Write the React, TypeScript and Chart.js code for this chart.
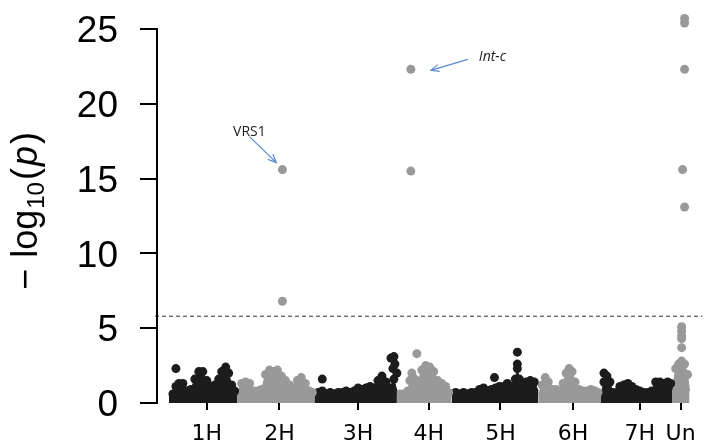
import React, { useEffect, useRef } from 'react';
import { Chart, registerables } from 'chart.js';
Chart.register(...registerables);

const BLACK = '#1c1c1c';
const GRAY = '#999999';

// chromosome labels and tick positions (cumulative position units)
const chromLabels = ['1H', '2H', '3H', '4H', '5H', '6H', '7H', 'Un'];
const chromTicks = [50, 123, 202, 273, 345, 418, 485, 526];
const yTicks = [0, 5, 10, 15, 20, 25];
const threshold = 5.8;

// dense SNP mass per chromosome: upper envelope [position, -log10(p)]
const chr1H = [[12, 0.4], [16, 0.6], [19, 1.1], [22, 1.3], [26, 1.3], [30, 0.8], [34, 0.9], [38, 1.6], [42, 2.1], [46, 2.1], [50, 1.5], [54, 1.1], [58, 1.2], [62, 1.6], [65, 2.1], [69, 2.4], [72, 2.0], [75, 1.2], [78, 0.8], [81, 0.7]];
const chr2H = [[81, 0.8], [85, 1.3], [89, 1.4], [93, 1.3], [97, 0.8], [101, 0.8], [105, 0.9], [109, 1.9], [113, 2.2], [117, 2.1], [121, 2.2], [125, 1.8], [129, 1.5], [133, 1.2], [137, 1.0], [141, 1.5], [145, 1.7], [149, 1.3], [153, 0.8], [156, 0.7], [158, 0.6]];
const chr3H = [[158, 0.6], [162, 0.7], [166, 0.8], [170, 0.6], [174, 0.7], [178, 0.6], [182, 0.7], [186, 0.7], [190, 0.8], [194, 0.7], [198, 0.8], [202, 1.0], [206, 0.9], [210, 1.0], [214, 1.1], [218, 1.0], [222, 1.5], [226, 1.8], [230, 1.4], [234, 1.0], [238, 1.6], [241, 0.8]];
const chr4H = [[241, 0.5], [244, 0.6], [248, 0.6], [252, 0.8], [254, 1.5], [256, 2.0], [259, 1.6], [262, 1.4], [266, 2.2], [270, 2.5], [274, 2.4], [278, 2.1], [282, 1.5], [286, 1.3], [290, 1.1], [293, 0.7], [296, 0.6]];
const chr5H = [[296, 0.5], [300, 0.7], [304, 0.6], [308, 0.7], [312, 0.6], [316, 0.7], [320, 0.7], [324, 0.9], [328, 1.0], [332, 0.8], [336, 0.9], [340, 1.0], [344, 1.1], [348, 1.1], [352, 1.3], [356, 1.1], [360, 1.6], [362, 2.3], [364, 1.6], [367, 1.3], [371, 1.4], [375, 1.5], [379, 1.4], [383, 0.8]];
const chr6H = [[383, 0.6], [387, 1.2], [390, 1.7], [393, 1.4], [397, 0.9], [401, 0.9], [405, 0.8], [408, 1.3], [411, 2.0], [414, 2.3], [417, 2.1], [420, 1.4], [424, 0.9], [428, 0.8], [432, 0.8], [436, 0.9], [440, 0.8], [443, 0.7], [446, 0.6]];
const chr7H = [[446, 0.6], [449, 1.4], [452, 1.8], [455, 1.4], [458, 0.7], [462, 0.7], [465, 1.1], [469, 1.2], [473, 1.3], [477, 1.1], [481, 0.9], [485, 0.8], [489, 0.7], [493, 0.7], [497, 0.8], [501, 1.4], [505, 1.4], [509, 1.3], [513, 1.4], [516, 1.3], [518, 0.9]];
const chrUn = [[518, 1.0], [521, 2.3], [524, 2.6], [527, 2.8], [530, 2.6], [533, 1.9], [535, 0.8]];

// isolated SNPs above the mass
const blackDots = [[19, 2.3], [166, 1.6], [235, 3.0], [238, 3.1], [239, 2.6], [241, 2.0], [237, 2.3], [339, 1.7], [362, 3.4], [362, 2.6], [449, 2.0]];
const grayDots = [[261, 3.3], [527, 3.7], [527, 4.3], [527, 4.5], [527, 4.8], [527, 5.1]];
const grayOutliers = [[126, 6.8], [126, 15.6], [255, 15.5], [255, 22.3], [528, 15.6], [530, 13.1], [530, 22.3], [530, 25.4], [530, 25.7]];

const envelopes = [chr1H, chr2H, chr3H, chr4H, chr5H, chr6H, chr7H, chrUn];
const toXY = (arr: number[][]) => arr.map(([x, y]) => ({ x, y }));

const decor = {
  id: 'decor',
  afterDraw(chart: any) {
    const ctx = chart.ctx as CanvasRenderingContext2D;
    const { left } = chart.chartArea;
    const xs = chart.scales.x;
    const ys = chart.scales.y;
    ctx.save();
    // y axis line from 0 to 25
    ctx.strokeStyle = '#000';
    ctx.lineWidth = 2;
    ctx.beginPath();
    ctx.moveTo(left, ys.getPixelForValue(yTicks[yTicks.length - 1]) - 1);
    ctx.lineTo(left, ys.getPixelForValue(0) + 1);
    ctx.stroke();
    ctx.restore();

    ctx.save();
    // y axis title: −log10(p)
    const main = '36px "Liberation Sans", Arial, sans-serif';
    const sub = '24px "Liberation Sans", Arial, sans-serif';
    const ital = 'italic 36px "Liberation Sans", Arial, sans-serif';
    const pieces: [string, string, number, number][] = [
      ['\u2212', main, 0, 11],
      ['log', main, 0, 1],
      ['10', sub, 7, 2],
      ['(', main, 0, 2],
      ['p', ital, 0, 2],
      [')', main, 0, 0],
    ];
    let total = 0;
    const widths = pieces.map(([t, f, , g]) => { ctx.font = f; const w = ctx.measureText(t).width; total += w + g; return w; });
    const mid = (ys.getPixelForValue(0) + ys.getPixelForValue(25)) / 2 - 5;
    ctx.translate(37, mid);
    ctx.rotate(-Math.PI / 2);
    ctx.fillStyle = '#000';
    ctx.textBaseline = 'alphabetic';
    ctx.textAlign = 'left';
    let cx = -total / 2;
    pieces.forEach(([t, f, dy, g], i) => {
      ctx.font = f;
      ctx.fillText(t, cx, dy);
      cx += widths[i] + g;
    });
    ctx.restore();

    // annotations
    const arrow = (x1: number, y1: number, x2: number, y2: number) => {
      ctx.save();
      ctx.strokeStyle = '#5b8ad0';
      ctx.lineWidth = 1.2;
      ctx.beginPath();
      ctx.moveTo(x1, y1);
      ctx.lineTo(x2, y2);
      const a = Math.atan2(y2 - y1, x2 - x1);
      const L = 9;
      ctx.moveTo(x2 - L * Math.cos(a - 0.4), y2 - L * Math.sin(a - 0.4));
      ctx.lineTo(x2, y2);
      ctx.lineTo(x2 - L * Math.cos(a + 0.4), y2 - L * Math.sin(a + 0.4));
      ctx.stroke();
      ctx.restore();
    };
    ctx.save();
    const p1x = xs.getPixelForValue(grayOutliers[1][0]);
    const p1y = ys.getPixelForValue(grayOutliers[1][1]);
    ctx.fillStyle = '#222';
    ctx.font = '14px "Open Sans", sans-serif';
    ctx.textAlign = 'center';
    ctx.textBaseline = 'middle';
    ctx.fillText('VRS1', p1x - 33, p1y - 38);
    arrow(p1x - 33, p1y - 33, p1x - 6, p1y - 7);
    const p2x = xs.getPixelForValue(grayOutliers[3][0]);
    const p2y = ys.getPixelForValue(grayOutliers[3][1]);
    ctx.font = 'italic 14px "Open Sans", sans-serif';
    ctx.textAlign = 'left';
    ctx.fillText('Int-c', p2x + 68, p2y - 12);
    arrow(p2x + 57, p2y - 10, p2x + 20, p2y + 1);
    ctx.restore();
  },
};

export default function App() {
  const ref = useRef<HTMLCanvasElement>(null);
  useEffect(() => {
    if (!ref.current) return;
    const datasets: any[] = [];
    envelopes.forEach((env, i) => {
      const col = i % 2 === 0 ? BLACK : GRAY;
      const n = env.length;
      datasets.push({
        type: 'line',
        data: toXY(env),
        borderColor: col,
        backgroundColor: col,
        borderWidth: 1,
        fill: 'origin',
        tension: 0,
        pointRadius: (c: any) => (c.dataIndex === 0 || c.dataIndex === n - 1 ? 0 : 4.5),
        pointBackgroundColor: col,
        pointBorderWidth: 0,
        clip: false,
      });
    });
    datasets.push({ type: 'scatter', data: toXY(blackDots), pointRadius: 4.5, pointBackgroundColor: BLACK, pointBorderWidth: 0, clip: false });
    datasets.push({ type: 'scatter', data: toXY(grayDots), pointRadius: 4.5, pointBackgroundColor: GRAY, pointBorderWidth: 0, clip: false });
    datasets.push({ type: 'scatter', data: toXY(grayOutliers), pointRadius: 4.5, pointBackgroundColor: GRAY, pointBorderWidth: 0, clip: false });
    datasets.push({
      type: 'line',
      data: [{ x: -2, y: threshold }, { x: 548, y: threshold }],
      borderColor: '#333',
      borderWidth: 1,
      borderDash: [4, 3],
      pointRadius: 0,
      fill: false,
      clip: false,
    });

    const chart = new Chart(ref.current, {
      type: 'scatter',
      data: { datasets },
      plugins: [decor],
      options: {
        animation: false,
        responsive: false,
        events: [],
        layout: { padding: { top: 14, right: 2, left: 0, bottom: 0 } },
        plugins: { legend: { display: false }, tooltip: { enabled: false } },
        scales: {
          x: {
            type: 'linear',
            min: 0,
            max: 550,
            afterFit: (s: any) => { s.height = 44; s.paddingLeft = 0; s.paddingRight = 0; },
            afterBuildTicks: (s: any) => { s.ticks = chromTicks.map((v) => ({ value: v })); },
            border: { display: false },
            grid: { drawOnChartArea: false, drawTicks: true, tickLength: 7, color: '#000', lineWidth: 2 },
            ticks: {
              autoSkip: false,
              maxRotation: 0,
              padding: 11,
              color: '#000',
              font: { family: '"DejaVu Sans", sans-serif', size: 22 },
              callback: (_v: any, i: number) => chromLabels[i],
            },
          },
          y: {
            type: 'linear',
            min: 0,
            max: 26,
            afterFit: (s: any) => { s.width = 157; s.paddingTop = 0; s.paddingBottom = 0; },
            afterBuildTicks: (s: any) => { s.ticks = yTicks.map((v) => ({ value: v })); },
            border: { display: false },
            grid: { drawOnChartArea: false, drawTicks: true, tickLength: 17, color: '#000', lineWidth: 2 },
            ticks: {
              padding: 22,
              labelOffset: 3,
              color: '#000',
              font: { family: '"Liberation Sans", Arial, sans-serif', size: 37 },
            },
          },
        },
      },
    });
    return () => chart.destroy();
  }, []);
  return (
    <div style={{ position: 'fixed', left: 0, top: 0, width: 709, height: 447, background: '#fff' }}>
      <canvas ref={ref} width={709} height={447} style={{ display: 'block' }} />
    </div>
  );
}
